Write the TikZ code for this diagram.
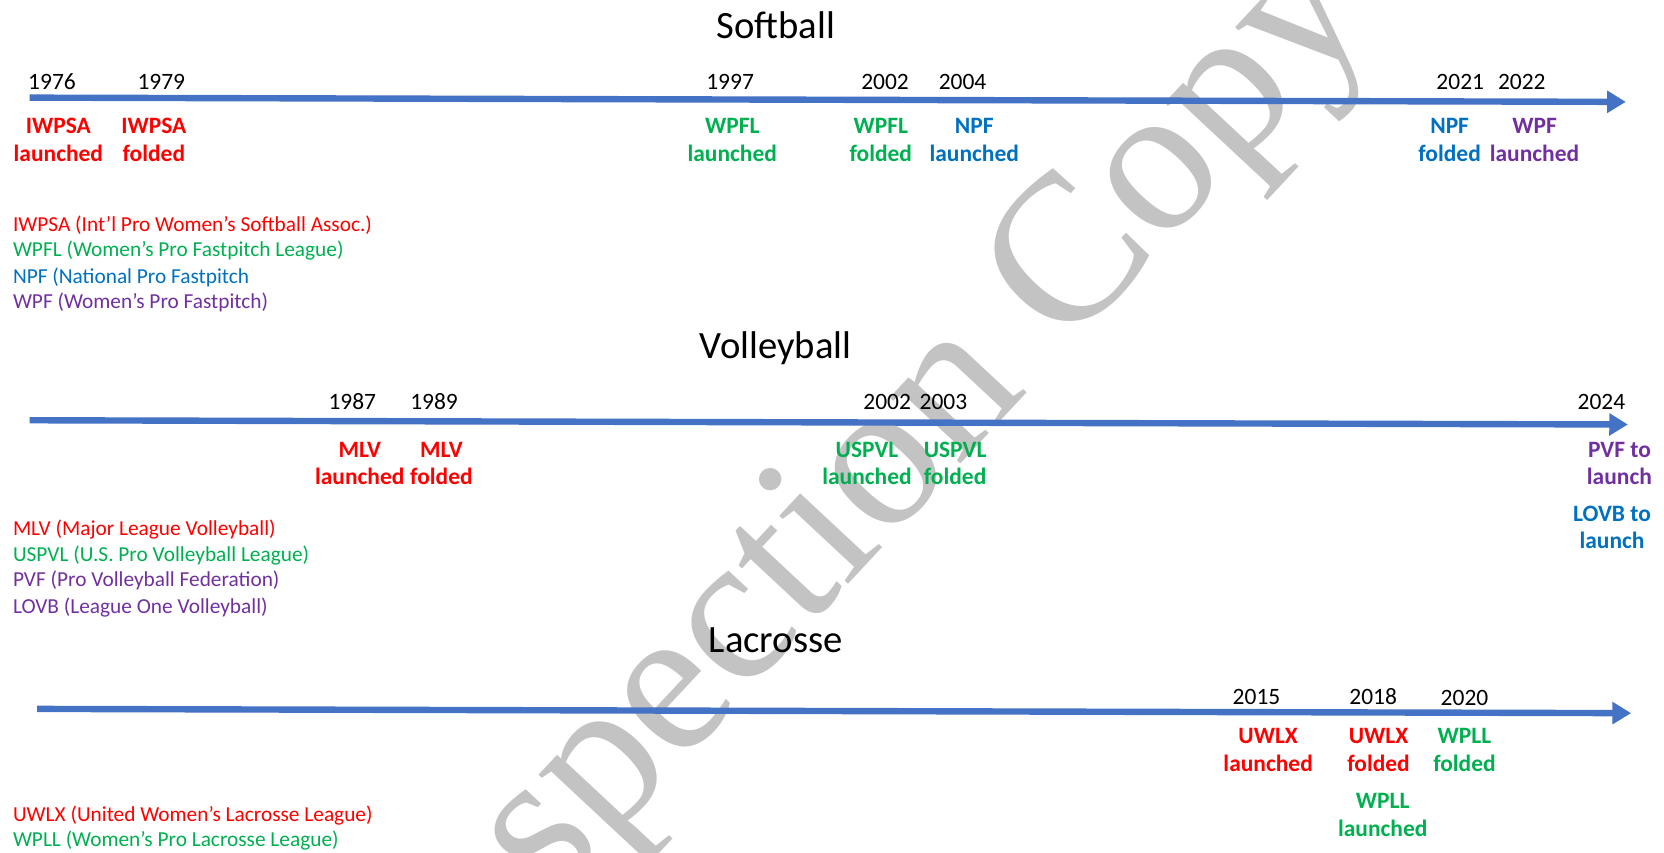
\documentclass[tikz,border=0pt]{standalone}
\usepackage{fontspec}
\setmainfont{Carlito}
\newfontfamily\wmfont{Liberation Serif}
\usetikzlibrary{arrows.meta}
\definecolor{lineblue}{HTML}{4472C4}
\definecolor{cred}{HTML}{FF0000}
\definecolor{cgreen}{HTML}{00B050}
\definecolor{cblue}{HTML}{0070C0}
\definecolor{cpurple}{HTML}{7030A0}
\definecolor{wmgray}{HTML}{C3C3C3}
\begin{document}
\begin{tikzpicture}[x=0.7959pt,y=-0.7959pt,
  tl/.style={draw=lineblue, line width=4.8pt, -{Triangle[length=14pt,width=16pt]}},
  ttl/.style={font=\fontsize{29}{34}\selectfont, inner sep=0pt, anchor=base},
  yr/.style={font=\fontsize{17.6}{21}\selectfont, inner sep=0pt, anchor=base},
  ev/.style={font=\bfseries\fontsize{17.6}{21}\selectfont, inner sep=0pt, anchor=base},
  leg/.style={font=\fontsize{16}{19}\selectfont, inner sep=0pt, anchor=base west},
]
\useasboundingbox (0,0) rectangle (1568,802.9);
% watermark
\begin{scope}
\clip (0,0) rectangle (1568,802.9);
\node[rotate=47, font=\wmfont\fontsize{158}{158}\selectfont, text=wmgray, inner sep=0pt] (wmk) at (819,465) {Inspection Copy};
\end{scope}

% ---------------- Softball ----------------
\node[ttl] (tsoft) at (731,36) {Softball};
\coordinate (sA) at (28,92);
\coordinate (sB) at (1532,96);
\draw[tl] (sA) -- (sB);
\node[yr] (y1976) at (49,84) {1976};
\node[yr] (y1979) at (152,84) {1979};
\node[yr] (y1997) at (688,84) {1997};
\node[yr] (y2002s) at (834,84) {2002};
\node[yr] (y2004) at (907,84) {2004};
\node[yr] (y2021) at (1376,84) {2021};
\node[yr] (y2022) at (1434,84) {2022};

\node[ev, text=cred] (s1a) at (55,126) {IWPSA};
\node[ev, text=cred] (s1b) at (55,152) {launched};
\node[ev, text=cred] (s2a) at (145,126) {IWPSA};
\node[ev, text=cred] (s2b) at (145,152) {folded};
\node[ev, text=cgreen] (s3a) at (690,126) {WPFL};
\node[ev, text=cgreen] (s3b) at (690,152) {launched};
\node[ev, text=cgreen] (s4a) at (830,126) {WPFL};
\node[ev, text=cgreen] (s4b) at (830,152) {folded};
\node[ev, text=cblue] (s5a) at (918,126) {NPF};
\node[ev, text=cblue] (s5b) at (918,152) {launched};
\node[ev, text=cblue] (s6a) at (1366,126) {NPF};
\node[ev, text=cblue] (s6b) at (1366,152) {folded};
\node[ev, text=cpurple] (s7a) at (1446,126) {WPF};
\node[ev, text=cpurple] (s7b) at (1446,152) {launched};

\node[leg, text=cred] (ls1) at (12,218) {IWPSA (Int’l Pro Women’s Softball Assoc.)};
\node[leg, text=cgreen] (ls2) at (12,242) {WPFL (Women’s Pro Fastpitch League)};
\node[leg, text=cblue] (ls3) at (12,267) {NPF (National Pro Fastpitch};
\node[leg, text=cpurple] (ls4) at (12,291) {WPF (Women’s Pro Fastpitch)};

% ---------------- Volleyball ----------------
\node[ttl] (tvol) at (731,338) {Volleyball};
\coordinate (vA) at (28,396);
\coordinate (vB) at (1534,400);
\draw[tl] (vA) -- (vB);
\node[yr] (y1987) at (332,386) {1987};
\node[yr] (y1989) at (409,386) {1989};
\node[yr] (y2002v) at (836,386) {2002};
\node[yr] (y2003) at (889,386) {2003};
\node[yr] (y2024) at (1509,386) {2024};

\node[ev, text=cred] (v1a) at (339,431) {MLV};
\node[ev, text=cred] (v1b) at (339,457) {launched};
\node[ev, text=cred] (v2a) at (416,431) {MLV};
\node[ev, text=cred] (v2b) at (416,457) {folded};
\node[ev, text=cgreen] (v3a) at (817,431) {USPVL};
\node[ev, text=cgreen] (v3b) at (817,457) {launched};
\node[ev, text=cgreen] (v4a) at (900,431) {USPVL};
\node[ev, text=cgreen] (v4b) at (900,457) {folded};
\node[ev, text=cpurple] (v5a) at (1526,431) {PVF to};
\node[ev, text=cpurple] (v5b) at (1526,457) {launch};
\node[ev, text=cblue] (v6a) at (1519,491) {LOVB to};
\node[ev, text=cblue] (v6b) at (1519,517) {launch};

\node[leg, text=cred] (lv1) at (12,505) {MLV (Major League Volleyball)};
\node[leg, text=cgreen] (lv2) at (12,529) {USPVL (U.S. Pro Volleyball League)};
\node[leg, text=cpurple] (lv3) at (12,553) {PVF (Pro Volleyball Federation)};
\node[leg, text=cpurple] (lv4) at (12,578) {LOVB (League One Volleyball)};

% ---------------- Lacrosse ----------------
\node[ttl] (tlac) at (731,615) {Lacrosse};
\coordinate (lA) at (35,668);
\coordinate (lB) at (1537,672);
\draw[tl] (lA) -- (lB);
\node[yr] (y2015) at (1184,664) {2015};
\node[yr] (y2018) at (1294,664) {2018};
\node[yr] (y2020) at (1380,665) {2020};

\node[ev, text=cred] (c1a) at (1195,701) {UWLX};
\node[ev, text=cred] (c1b) at (1195,727) {launched};
\node[ev, text=cred] (c2a) at (1299,701) {UWLX};
\node[ev, text=cred] (c2b) at (1299,727) {folded};
\node[ev, text=cgreen] (c3a) at (1380,701) {WPLL};
\node[ev, text=cgreen] (c3b) at (1380,727) {folded};
\node[ev, text=cgreen] (c4a) at (1303,762) {WPLL};
\node[ev, text=cgreen] (c4b) at (1303,788) {launched};

\node[leg, text=cred] (lc1) at (12,774) {UWLX (United Women’s Lacrosse League)};
\node[leg, text=cgreen] (lc2) at (12,798) {WPLL (Women’s Pro Lacrosse League)};
\end{tikzpicture}
\end{document}
